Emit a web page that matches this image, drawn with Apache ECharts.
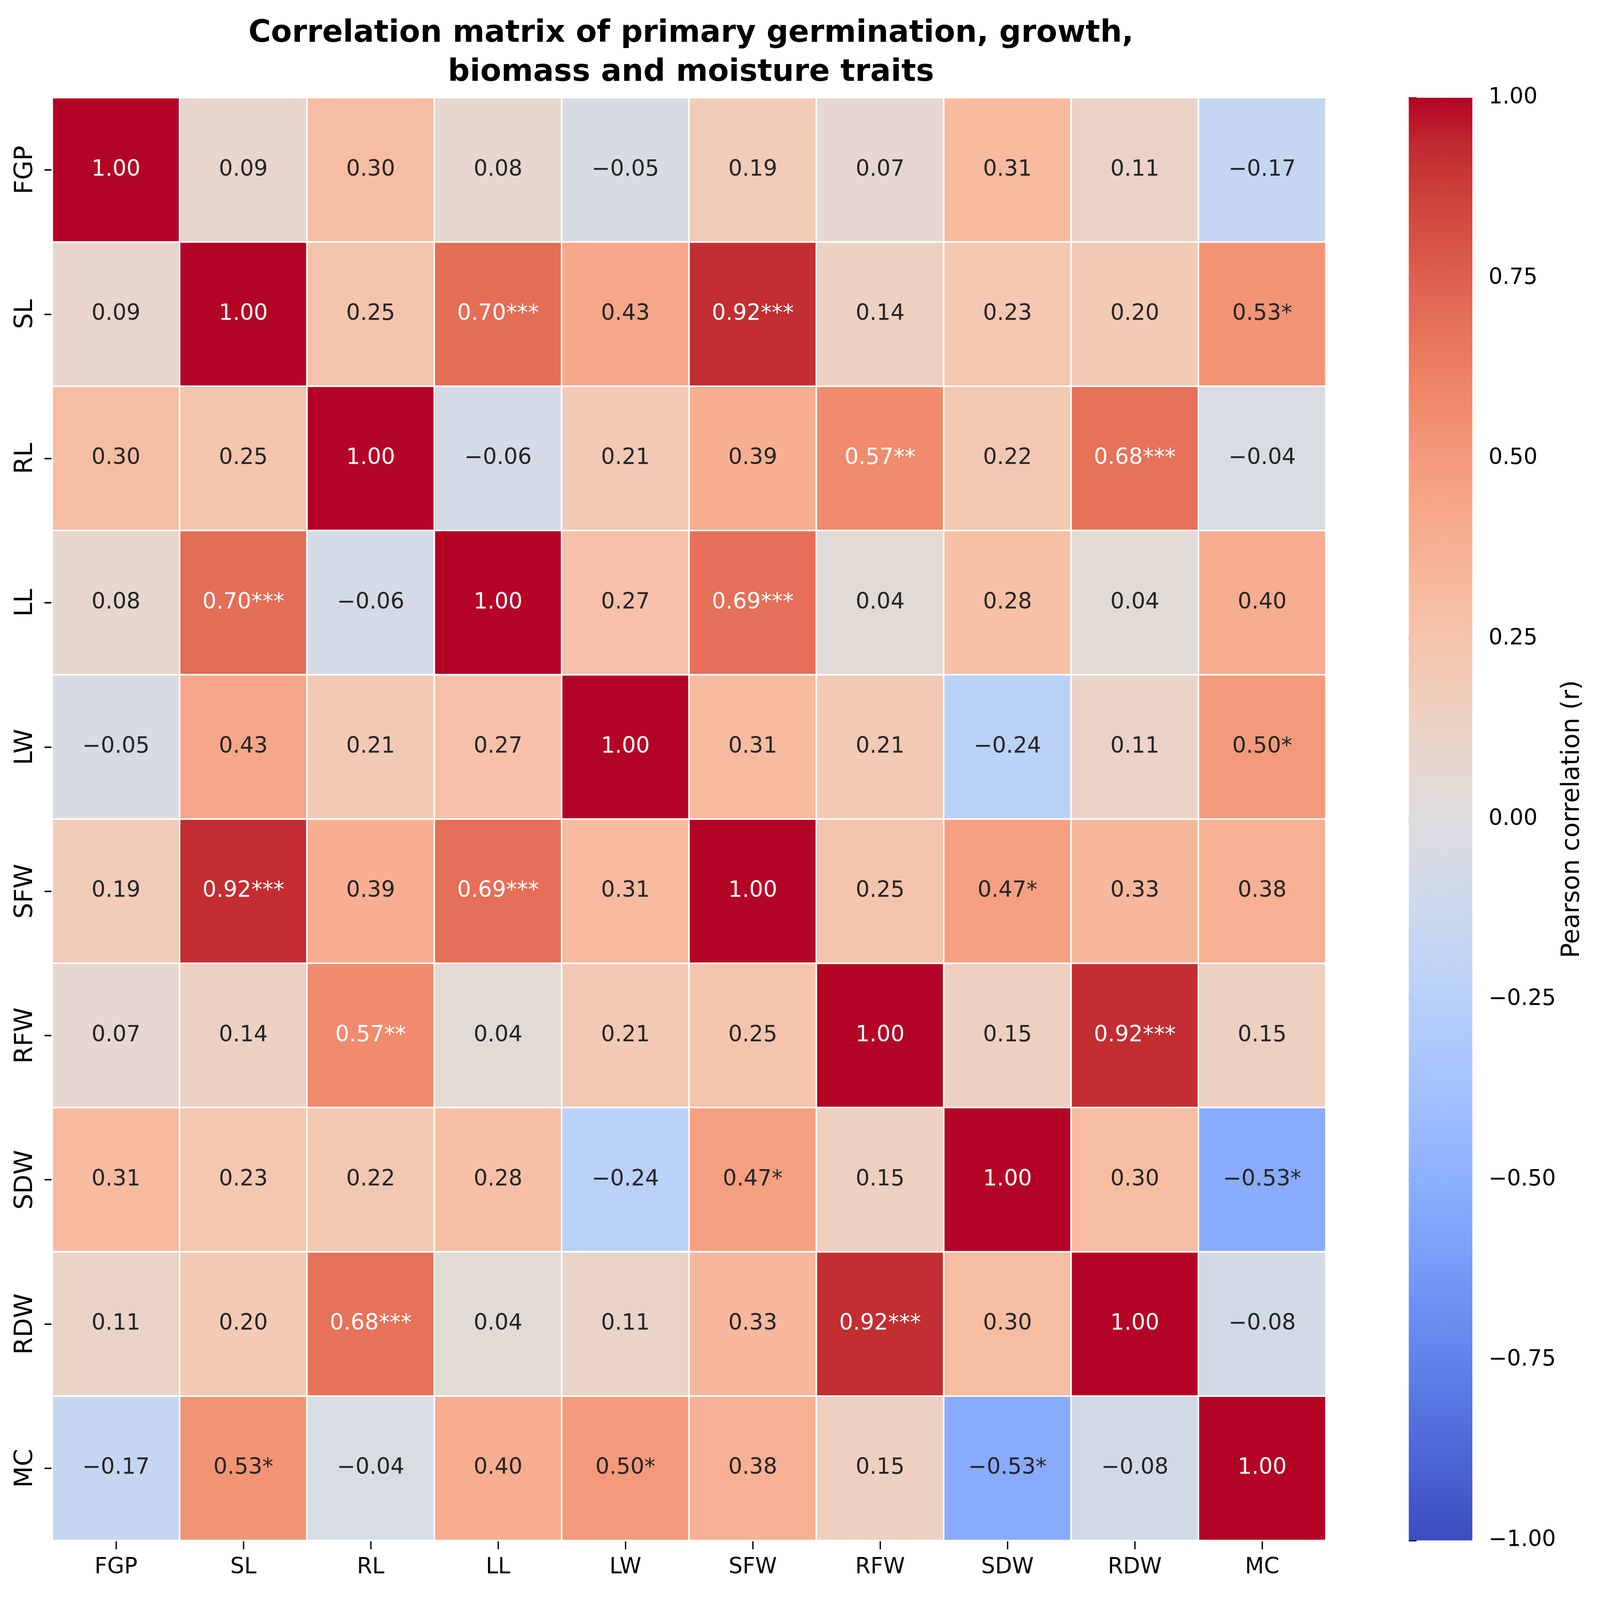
<!DOCTYPE html>
<html>
<head>
<meta charset="utf-8">
<script src="https://cdn.jsdelivr.net/npm/echarts@6/dist/echarts.min.js"></script>
<style>
  html, body { margin: 0; padding: 0; background: #fff; overflow: hidden; }
  #main { width: 100vw; height: 100vh; }
</style>
</head>
<body>
<div id="main"></div>
<script>
// traits, same order on both axes
var traits = ['FGP', 'SL', 'RL', 'LL', 'LW', 'SFW', 'RFW', 'SDW', 'RDW', 'MC'];

// pearson r, one row per trait (row = y, column = x)
var rFGP = [1.00, 0.09, 0.30, 0.08, -0.05, 0.19, 0.07, 0.31, 0.11, -0.17];
var rSL  = [0.09, 1.00, 0.25, 0.70, 0.43, 0.92, 0.14, 0.23, 0.20, 0.53];
var rRL  = [0.30, 0.25, 1.00, -0.06, 0.21, 0.39, 0.57, 0.22, 0.68, -0.04];
var rLL  = [0.08, 0.70, -0.06, 1.00, 0.27, 0.69, 0.04, 0.28, 0.04, 0.40];
var rLW  = [-0.05, 0.43, 0.21, 0.27, 1.00, 0.31, 0.21, -0.24, 0.11, 0.50];
var rSFW = [0.19, 0.92, 0.39, 0.69, 0.31, 1.00, 0.25, 0.47, 0.33, 0.38];
var rRFW = [0.07, 0.14, 0.57, 0.04, 0.21, 0.25, 1.00, 0.15, 0.92, 0.15];
var rSDW = [0.31, 0.23, 0.22, 0.28, -0.24, 0.47, 0.15, 1.00, 0.30, -0.53];
var rRDW = [0.11, 0.20, 0.68, 0.04, 0.11, 0.33, 0.92, 0.30, 1.00, -0.08];
var rMC  = [-0.17, 0.53, -0.04, 0.40, 0.50, 0.38, 0.15, -0.53, -0.08, 1.00];

// significance stars
var sFGP = ['', '', '', '', '', '', '', '', '', ''];
var sSL  = ['', '', '', '***', '', '***', '', '', '', '*'];
var sRL  = ['', '', '', '', '', '', '**', '', '***', ''];
var sLL  = ['', '***', '', '', '', '***', '', '', '', ''];
var sLW  = ['', '', '', '', '', '', '', '', '', '*'];
var sSFW = ['', '***', '', '***', '', '', '', '*', '', ''];
var sRFW = ['', '', '**', '', '', '', '', '', '***', ''];
var sSDW = ['', '', '', '', '', '*', '', '', '', '*'];
var sRDW = ['', '', '***', '', '', '', '***', '', '', ''];
var sMC  = ['', '*', '', '', '*', '', '', '*', '', ''];

var rRows = [rFGP, rSL, rRL, rLL, rLW, rSFW, rRFW, rSDW, rRDW, rMC];
var sRows = [sFGP, sSL, sRL, sLL, sLW, sSFW, sRFW, sSDW, sRDW, sMC];

// colorbar ticks
var cbMin = -1, cbMax = 1, cbStep = 0.25;

// coolwarm, 33 evenly spaced samples from -1 to 1
var coolwarm = [
  [59,76,192],[68,90,204],[77,104,215],[87,117,225],[98,130,234],[108,142,241],
  [119,154,247],[130,165,251],[141,176,254],[152,185,255],[163,194,255],[174,201,253],
  [184,208,249],[194,213,244],[204,217,238],[213,219,230],[221,221,221],[229,216,209],
  [236,211,197],[241,204,184],[245,196,172],[247,187,160],[247,177,148],[247,166,135],
  [244,154,123],[241,141,111],[236,127,99],[229,112,88],[222,96,77],[213,80,66],
  [203,62,56],[192,40,47],[180,4,38]
];
var FONT = 'DejaVu Sans';

// layout is worked out for a 6116 x 5399 figure, scaled to the real window
var W = window.innerWidth || 6116, H = window.innerHeight || 5399;
var sx = W / 6116, sy = H / 5399;
function X(v) { return v * sx; }
function Y(v) { return v * sy; }

function rgb(c) { return 'rgb(' + c.map(Math.round).join(',') + ')'; }

function cmap(v) {
  var t = (v - cbMin) / (cbMax - cbMin) * (coolwarm.length - 1);
  var i = Math.min(Math.floor(t), coolwarm.length - 2);
  var f = t - i;
  var a = coolwarm[i], b = coolwarm[i + 1];
  return [0, 1, 2].map(function (k) { return a[k] + (b[k] - a[k]) * f; });
}

// seaborn-style text colour from the cell luminance
function textColor(v) {
  var c = cmap(v).map(function (x) {
    x = x / 255;
    return x <= 0.03928 ? x / 12.92 : Math.pow((x + 0.055) / 1.055, 2.4);
  });
  var lum = 0.2126 * c[0] + 0.7152 * c[1] + 0.0722 * c[2];
  return lum > 0.408 ? '#262626' : '#ffffff';
}

function fmt(v) { return v.toFixed(2).replace('-', '\u2212'); }

var cells = [];
rRows.forEach(function (row, y) {
  row.forEach(function (v, x) {
    cells.push({
      value: [x, y, v],
      stars: sRows[y][x],
      label: { color: textColor(v) }
    });
  });
});

var stops = coolwarm.map(function (c, i) {
  return { offset: 1 - i / (coolwarm.length - 1), color: rgb(c) };
}).reverse();

var dom = document.getElementById('main');
var myChart = echarts.init(dom, null, { renderer: 'canvas' });

var option = {
  backgroundColor: '#fff',
  animation: false,
  title: {
    text: 'Correlation matrix of primary germination, growth,\nbiomass and moisture traits',
    left: X(2634),
    top: Y(42),
    textAlign: 'center',
    textStyle: { fontFamily: FONT, fontSize: X(117), fontWeight: 'bold', color: '#000', lineHeight: Y(132) }
  },
  grid: [
    { left: X(200), top: Y(330), width: X(4868), height: Y(4868) },
    { left: X(5385), top: Y(330), width: X(243), height: Y(4868) }
  ],
  xAxis: [
    {
      type: 'category', gridIndex: 0, data: traits, position: 'bottom',
      axisLine: { show: false },
      axisTick: { show: true, alignWithLabel: true, length: Y(30), lineStyle: { color: '#000', width: X(5) } },
      axisLabel: { fontFamily: FONT, fontSize: X(84), color: '#000', margin: Y(55) },
      splitLine: { show: false }
    },
    { type: 'value', gridIndex: 1, min: 0, max: 1, show: false }
  ],
  yAxis: [
    {
      type: 'category', gridIndex: 0, data: traits, inverse: true,
      axisLine: { show: false },
      axisTick: { show: true, alignWithLabel: true, length: X(30), lineStyle: { color: '#000', width: Y(5) } },
      axisLabel: { fontFamily: FONT, fontSize: Y(84), color: '#000', margin: X(55), rotate: 90 },
      splitLine: { show: false }
    },
    {
      type: 'value', gridIndex: 1, position: 'right',
      min: cbMin, max: cbMax, interval: cbStep,
      axisLine: { show: false },
      axisTick: { show: true, length: X(30), lineStyle: { color: '#000', width: Y(5) } },
      splitLine: { show: false },
      axisLabel: {
        fontFamily: FONT, fontSize: X(84), color: '#000', margin: X(62),
        formatter: function (v) { return fmt(v); }
      },
      name: 'Pearson correlation (r)',
      nameLocation: 'middle',
      nameRotate: 90,
      nameGap: X(335),
      nameTextStyle: { fontFamily: FONT, fontSize: Y(84), color: '#000' }
    }
  ],
  visualMap: {
    type: 'continuous',
    show: false,
    min: cbMin,
    max: cbMax,
    dimension: 2,
    seriesIndex: 0,
    inRange: { color: coolwarm.map(rgb) }
  },
  series: [
    {
      type: 'heatmap',
      xAxisIndex: 0,
      yAxisIndex: 0,
      data: cells,
      itemStyle: { borderColor: '#fff', borderWidth: X(6) },
      label: {
        show: true,
        fontFamily: FONT,
        fontSize: X(84),
        formatter: function (p) { return fmt(p.value[2]) + p.data.stars; }
      },
      emphasis: { disabled: true }
    },
    {
      type: 'custom',
      xAxisIndex: 1,
      yAxisIndex: 1,
      silent: true,
      data: [[0, cbMin]],
      renderItem: function (params, api) {
        var tl = api.coord([0, cbMax]);
        var br = api.coord([1, cbMin]);
        return {
          type: 'rect',
          shape: { x: tl[0], y: tl[1], width: br[0] - tl[0], height: br[1] - tl[1] },
          style: { fill: new echarts.graphic.LinearGradient(0, 0, 0, 1, stops) }
        };
      }
    }
  ]
};

myChart.setOption(option);
window.addEventListener('resize', myChart.resize);
</script>
</body>
</html>
